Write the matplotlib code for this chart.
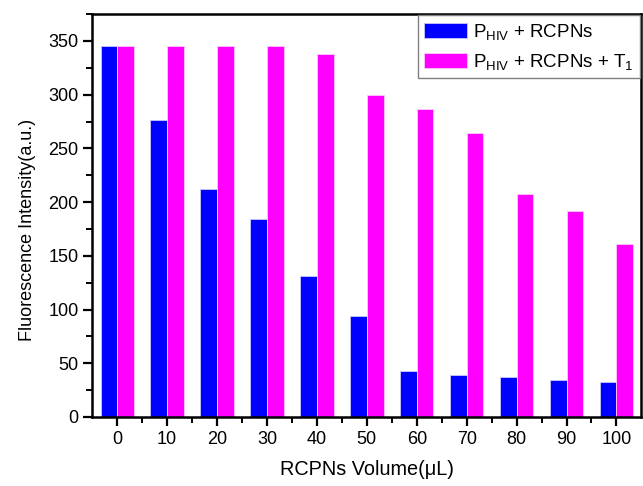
import matplotlib
matplotlib.use('Agg')
import matplotlib.pyplot as plt
import numpy as np
from matplotlib.ticker import MultipleLocator, FixedLocator

plt.rcParams['font.family'] = ['Liberation Sans', 'DejaVu Sans']
plt.rcParams['mathtext.fontset'] = 'custom'
plt.rcParams['mathtext.rm'] = 'Liberation Sans'
plt.rcParams['mathtext.it'] = 'Liberation Sans'

# data
volumes = ['0', '10', '20', '30', '40', '50', '60', '70', '80', '90', '100']
phiv_rcpns = [345, 276, 212, 184, 131, 94, 43, 39, 37, 34, 33]
phiv_rcpns_t1 = [345, 345, 345, 345, 338, 300, 287, 264, 208, 192, 161]

fig = plt.figure(figsize=(6.43, 4.86), dpi=100)
ax = fig.add_axes([0.1435, 0.142, 0.854, 0.829])

x = np.arange(len(volumes))
w = 0.335
ax.bar(x - w / 2, phiv_rcpns, w, color='#0000ff', edgecolor='#c8c8ff', linewidth=0.6,
       label=r'P$_{\rm HIV}$ + RCPNs')
ax.bar(x + w / 2, phiv_rcpns_t1, w, color='#ff00ff', edgecolor='#ffc8ff', linewidth=0.6,
       label=r'P$_{\rm HIV}$ + RCPNs + T$_{\rm 1}$')

ax.set_xlim(-0.5, 10.5)
ax.set_ylim(0, 375)
ax.set_xticks(x)
ax.set_xticklabels(volumes)
ax.xaxis.set_minor_locator(FixedLocator(x[:-1] + 0.5))
ax.yaxis.set_major_locator(MultipleLocator(50))
ax.yaxis.set_minor_locator(MultipleLocator(25))

ax.tick_params(which='major', direction='out', length=6.5, width=1.6, labelsize=13)
ax.tick_params(axis='y', which='major', pad=3.5)
ax.tick_params(axis='x', which='major', pad=3.5)
ax.tick_params(which='minor', direction='out', length=4, width=1.4)
for s in ax.spines.values():
    s.set_linewidth(1.8)

ax.set_xlabel(u'RCPNs Volume(\u03bcL)', fontsize=14.3, labelpad=9)
ax.set_ylabel('Fluorescence Intensity(a.u.)', fontsize=13)
ax.yaxis.set_label_coords(-0.1025, 0.465)

leg = ax.legend(loc='upper right', fontsize=13.5, fancybox=False, edgecolor='#808080',
                framealpha=1, borderaxespad=0.05, handlelength=2.25, handleheight=0.85,
                handletextpad=0.35, labelspacing=0.55, borderpad=0.35)
leg.get_frame().set_linewidth(1)

plt.savefig('out.png', dpi=100)
